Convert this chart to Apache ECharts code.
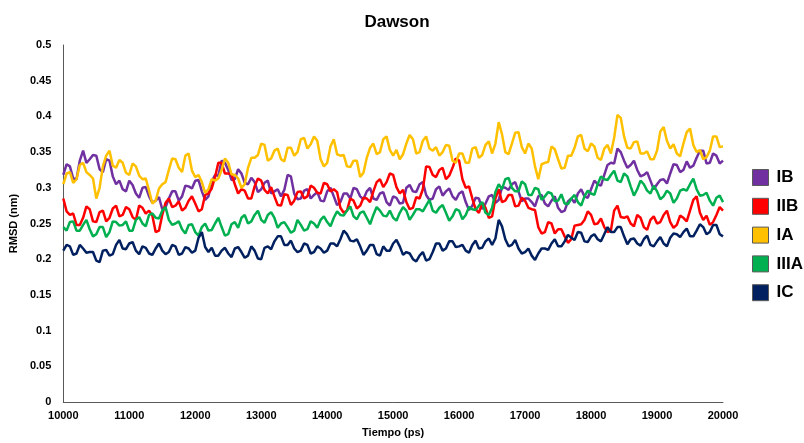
<!DOCTYPE html>
<html>
<head>
<meta charset="utf-8">
<script src="https://cdn.jsdelivr.net/npm/echarts@6/dist/echarts.min.js"></script>
<style>
  html, body { margin: 0; padding: 0; background: #fff; }
  #chart { width: 804px; height: 443px; }
</style>
</head>
<body>
<div id="chart"></div>
<script>
// Trajectory sampling: one frame every 50 ps from 10000 to 20000 ps
const tStart = 10000;
const tStep = 50;

const xTicks = [10000, 11000, 12000, 13000, 14000, 15000, 16000, 17000, 18000, 19000, 20000];
const seriesNames = ['IB', 'IIB', 'IA', 'IIIA', 'IC'];

// RMSD (nm) per frame
const rmsdIB = [
  .318,.333,.330,.313,.312,.338,.352,.335,.340,.346,
  .345,.326,.322,.340,.338,.316,.305,.310,.298,.295,
  .310,.304,.292,.286,.300,.301,.288,.279,.282,.287,
  .270,.273,.285,.295,.295,.282,.288,.303,.302,.299,
  .310,.311,.295,.283,.288,.309,.318,.317,.338,.335,
  .325,.311,.312,.326,.320,.307,.305,.314,.308,.294,
  .298,.307,.310,.292,.295,.298,.288,.297,.318,.316,
  .292,.284,.285,.296,.298,.285,.290,.294,.282,.281,
  .295,.300,.288,.276,.280,.292,.292,.285,.300,.298,
  .288,.284,.295,.300,.285,.283,.292,.294,.280,.275,
  .288,.286,.278,.279,.300,.304,.295,.294,.305,.308,
  .290,.283,.285,.298,.302,.289,.295,.299,.288,.283,
  .292,.295,.280,.269,.275,.286,.285,.270,.278,.288,
  .290,.279,.283,.301,.300,.297,.305,.308,.295,.281,
  .285,.285,.280,.274,.288,.290,.278,.274,.282,.288,
  .272,.266,.268,.281,.285,.279,.292,.298,.288,.286,
  .298,.310,.305,.303,.318,.332,.335,.334,.355,.350,
  .338,.328,.332,.338,.325,.316,.318,.322,.310,.298,
  .305,.311,.312,.306,.320,.333,.332,.322,.325,.337,
  .328,.331,.342,.352,.352,.334,.335,.348,.345,.334,
  .338
];
const rmsdIIB = [
  .285,.267,.262,.264,.248,.248,.258,.274,.270,.253,
  .252,.266,.268,.253,.258,.271,.275,.260,.262,.273,
  .270,.259,.255,.275,.272,.264,.268,.261,.238,.240,
  .262,.279,.285,.273,.275,.281,.268,.272,.282,.288,
  .278,.267,.270,.290,.292,.299,.315,.335,.335,.320,
  .320,.319,.305,.292,.298,.296,.285,.285,.302,.313,
  .310,.297,.292,.301,.288,.276,.275,.291,.290,.276,
  .282,.294,.295,.285,.288,.303,.300,.293,.292,.307,
  .305,.295,.298,.294,.272,.265,.268,.285,.282,.271,
  .275,.286,.285,.280,.295,.308,.312,.301,.308,.320,
  .318,.301,.292,.297,.280,.270,.272,.287,.285,.298,
  .330,.329,.318,.315,.325,.328,.312,.317,.328,.341,
  .338,.312,.300,.302,.285,.270,.265,.279,.272,.258,
  .260,.285,.298,.280,.282,.290,.290,.274,.275,.286,
  .282,.272,.270,.269,.245,.236,.238,.252,.250,.236,
  .242,.242,.232,.223,.228,.247,.248,.249,.255,.267,
  .262,.249,.250,.257,.245,.238,.240,.268,.275,.259,
  .258,.260,.250,.246,.262,.258,.245,.241,.255,.260,
  .250,.252,.262,.268,.252,.244,.248,.261,.258,.253,
  .268,.283,.288,.265,.255,.261,.248,.252,.262,.273,
  .268
];
const rmsdIA = [
  .305,.320,.322,.307,.312,.332,.335,.322,.318,.313,
  .285,.300,.330,.345,.352,.331,.328,.339,.335,.321,
  .318,.334,.330,.317,.312,.313,.296,.278,.282,.299,
  .305,.308,.325,.341,.340,.328,.322,.345,.348,.324,
  .315,.318,.308,.293,.298,.312,.310,.313,.325,.341,
  .335,.319,.318,.313,.300,.305,.328,.342,.342,.346,
  .362,.360,.338,.341,.352,.355,.340,.337,.356,.356,
  .345,.350,.368,.370,.355,.361,.372,.366,.340,.330,
  .335,.358,.368,.347,.345,.346,.330,.329,.338,.338,
  .315,.321,.342,.356,.362,.347,.350,.368,.372,.353,
  .345,.353,.340,.347,.362,.374,.368,.348,.350,.366,
  .372,.355,.352,.357,.345,.350,.360,.359,.338,.335,
  .348,.348,.335,.335,.355,.357,.342,.346,.360,.365,
  .348,.362,.392,.375,.350,.347,.362,.377,.378,.357,
  .348,.362,.355,.330,.312,.333,.335,.336,.358,.354,
  .340,.327,.328,.345,.345,.356,.372,.374,.355,.351,
  .362,.358,.342,.339,.355,.360,.348,.370,.402,.398,
  .372,.356,.355,.364,.365,.348,.348,.351,.340,.340,
  .352,.379,.385,.366,.355,.361,.348,.344,.362,.378,
  .383,.360,.350,.353,.340,.343,.352,.372,.372,.357,
  .358
];
const rmsdIIIA = [
  .245,.240,.252,.253,.240,.240,.248,.255,.242,.232,
  .235,.245,.245,.231,.238,.253,.252,.247,.248,.253,
  .240,.240,.255,.259,.250,.246,.262,.264,.258,.257,
  .268,.273,.255,.248,.250,.253,.242,.236,.248,.249,
  .238,.233,.245,.250,.240,.241,.250,.258,.245,.233,
  .235,.249,.252,.244,.258,.262,.250,.253,.262,.268,
  .255,.251,.262,.266,.258,.244,.250,.252,.245,.237,
  .240,.255,.248,.240,.242,.253,.250,.244,.255,.260,
  .252,.246,.258,.267,.262,.261,.268,.274,.260,.256,
  .265,.267,.258,.249,.262,.273,.268,.261,.260,.268,
  .258,.254,.265,.273,.268,.255,.262,.270,.270,.267,
  .275,.283,.268,.265,.272,.276,.265,.254,.260,.270,
  .268,.256,.262,.273,.270,.269,.275,.280,.265,.262,
  .272,.294,.305,.298,.312,.314,.300,.295,.295,.309,
  .305,.290,.290,.300,.298,.283,.288,.294,.292,.281,
  .282,.291,.278,.277,.285,.290,.280,.275,.288,.296,
  .292,.290,.305,.316,.312,.311,.318,.324,.310,.308,
  .320,.316,.302,.289,.298,.310,.305,.296,.292,.303,
  .295,.284,.288,.296,.292,.279,.285,.296,.298,.296,
  .305,.313,.298,.289,.290,.293,.282,.275,.286,.289,
  .280
];
const rmsdIC = [
  .212,.220,.218,.206,.208,.220,.215,.209,.210,.210,
  .198,.196,.212,.213,.205,.207,.220,.227,.215,.214,
  .222,.224,.212,.207,.218,.216,.208,.206,.215,.222,
  .212,.207,.210,.220,.218,.206,.208,.217,.215,.209,
  .212,.230,.238,.217,.210,.216,.205,.205,.212,.216,
  .208,.203,.215,.217,.210,.202,.205,.218,.212,.201,
  .200,.216,.218,.214,.225,.232,.232,.220,.220,.226,
  .215,.210,.212,.222,.220,.208,.210,.218,.215,.209,
  .212,.222,.222,.218,.228,.240,.235,.226,.225,.228,
  .218,.206,.212,.220,.220,.207,.205,.218,.212,.212,
  .222,.227,.218,.206,.210,.208,.200,.197,.205,.210,
  .198,.200,.210,.222,.222,.212,.215,.225,.225,.217,
  .218,.220,.212,.209,.220,.226,.215,.216,.225,.229,
  .220,.229,.255,.246,.228,.218,.220,.227,.215,.208,
  .210,.215,.205,.199,.208,.215,.215,.213,.222,.228,
  .218,.218,.225,.234,.230,.227,.238,.237,.225,.224,
  .232,.235,.228,.225,.235,.245,.238,.238,.245,.245,
  .232,.221,.228,.229,.222,.219,.228,.233,.220,.218,
  .225,.231,.222,.218,.230,.236,.235,.231,.238,.243,
  .232,.232,.240,.249,.245,.235,.238,.248,.248,.235,
  .232
];

const seriesValues = [rmsdIB, rmsdIIB, rmsdIA, rmsdIIIA, rmsdIC];
const seriesColors = ['#7030A0', '#FF0000', '#FFC000', '#00B050', '#002060'];

function toPairs(values) {
  return values.map((v, i) => [tStart + i * tStep, v]);
}

const font = 'Liberation Sans, Arial, sans-serif';
const chart = echarts.init(document.getElementById('chart'), null, { renderer: 'canvas' });

chart.setOption({
  animation: false,
  backgroundColor: '#ffffff',
  title: {
    text: 'Dawson',
    left: 392,
    top: 9,
    textAlign: 'center',
    textStyle: { fontFamily: font, fontWeight: 'bold', fontSize: 17, color: '#000' }
  },
  legend: {
    orient: 'vertical',
    left: 747,
    top: 164,
    itemWidth: 16,
    itemHeight: 16,
    itemGap: 11.8,
    icon: 'rect',
    data: seriesNames,
    itemStyle: { borderColor: '#595959', borderWidth: 1 },
    textStyle: { fontFamily: font, fontWeight: 'bold', fontSize: 17, color: '#000', padding: [0, 0, 0, 3] }
  },
  grid: { left: 62, right: 81, top: 45, bottom: 41, containLabel: false },
  xAxis: {
    type: 'value',
    min: xTicks[0],
    max: xTicks[xTicks.length - 1],
    interval: 1000,
    name: 'Tiempo (ps)',
    nameLocation: 'middle',
    nameGap: 25,
    nameTextStyle: { fontFamily: font, fontWeight: 'bold', fontSize: 11, color: '#000' },
    axisLine: { show: true, lineStyle: { color: '#595959', width: 1 } },
    axisTick: { show: false },
    splitLine: { show: false },
    axisLabel: {
      fontFamily: font, fontWeight: 'bold', fontSize: 11, color: '#000', margin: 8,
      formatter: (v) => String(v)
    }
  },
  yAxis: {
    type: 'value',
    min: 0,
    max: 0.5,
    interval: 0.05,
    name: 'RMSD (nm)',
    nameLocation: 'middle',
    nameGap: 42,
    nameRotate: 90,
    nameTextStyle: { fontFamily: font, fontWeight: 'bold', fontSize: 11, color: '#000' },
    axisLine: { show: true, lineStyle: { color: '#595959', width: 1 } },
    axisTick: { show: false },
    splitLine: { show: false },
    axisLabel: { fontFamily: font, fontWeight: 'bold', fontSize: 11, color: '#000', margin: 12 }
  },
  series: seriesNames.map((name, k) => ({
    name: name,
    type: 'line',
    data: toPairs(seriesValues[k]),
    showSymbol: false,
    symbol: 'none',
    color: seriesColors[k],
    lineStyle: { width: 2.5, color: seriesColors[k] },
    itemStyle: { color: seriesColors[k] }
  }))
});
</script>
</body>
</html>
